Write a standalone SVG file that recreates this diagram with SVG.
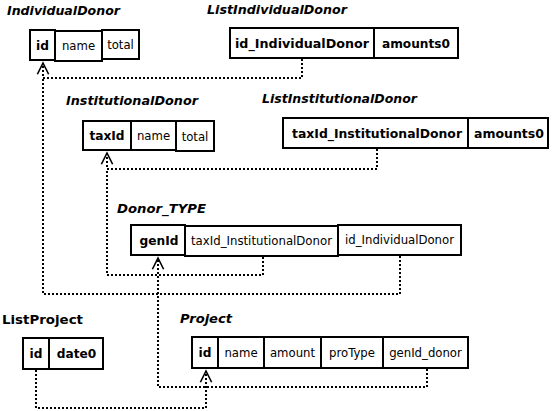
<svg xmlns="http://www.w3.org/2000/svg" width="554" height="411" viewBox="0 0 554 411">
<style>
.bg{fill:#fff}
.cell{fill:#fff;stroke:#000;stroke-width:2}
.t{font-family:"DejaVu Sans",Verdana,sans-serif;font-size:11.7px;fill:#000;text-anchor:middle}
.b{font-weight:bold;font-size:12.2px}
.title{font-family:"DejaVu Sans",Verdana,sans-serif;font-size:12.7px;font-weight:bold;font-style:italic;fill:#000}
.plain{font-style:normal}
.conn{fill:none;stroke:#000;stroke-width:2;stroke-dasharray:2 2}
</style>
<defs>
<marker id="arr" markerUnits="userSpaceOnUse" orient="auto" refX="0" refY="0" markerWidth="20" markerHeight="20" viewBox="-12 -8 16 16" overflow="visible">
<path d="M-9,-4.5 L0,0 L-9,4.5" fill="none" stroke="#000" stroke-width="1.3"/>
</marker>
</defs>
<rect class="bg" x="0" y="0" width="554" height="411"/>

<g id="connectors">
<path class="conn" d="M302,59 V78 H43 V63" marker-end="url(#arr)"/>
<path class="conn" d="M400,256 V294 H43 V78"/>
<path class="conn" d="M377,149 V169 H107 V153" marker-end="url(#arr)"/>
<path class="conn" d="M263,257 V275 H107 V169"/>
<path class="conn" d="M427,369 V387 H158 V258" marker-end="url(#arr)"/>
<path class="conn" d="M36,370 V408 H206 V371" marker-end="url(#arr)"/>
</g>

<g id="IndividualDonor">
<text class="title" x="7" y="15" textLength="113" lengthAdjust="spacingAndGlyphs">IndividualDonor</text>
<rect class="cell" x="30" y="30" width="25" height="30"/>
<rect class="cell" x="55" y="31" width="47" height="30"/>
<rect class="cell" x="102" y="30" width="37" height="29"/>
<text class="t b" x="42.5" y="49.5">id</text>
<text class="t" x="78.5" y="50">name</text>
<text class="t" x="120.5" y="49">total</text>
</g>

<g id="ListIndividualDonor">
<text class="title" x="207" y="14" textLength="140" lengthAdjust="spacingAndGlyphs">ListIndividualDonor</text>
<rect class="cell" x="230" y="28" width="144" height="30"/>
<rect class="cell" x="374" y="28" width="84" height="30"/>
<text class="t b" x="302" y="47.5" textLength="134" lengthAdjust="spacingAndGlyphs">id_IndividualDonor</text>
<text class="t b" x="416" y="47.5" textLength="68" lengthAdjust="spacingAndGlyphs">amounts0</text>
</g>

<g id="InstitutionalDonor">
<text class="title" x="66" y="105" textLength="132" lengthAdjust="spacingAndGlyphs">InstitutionalDonor</text>
<rect class="cell" x="83" y="121" width="48" height="29"/>
<rect class="cell" x="131" y="121" width="45" height="29"/>
<rect class="cell" x="176" y="121" width="38" height="30"/>
<text class="t b" x="107" y="140">taxId</text>
<text class="t" x="153.5" y="140">name</text>
<text class="t" x="195" y="140.5">total</text>
</g>

<g id="ListInstitutionalDonor">
<text class="title" x="262" y="103" textLength="155" lengthAdjust="spacingAndGlyphs">ListInstitutionalDonor</text>
<rect class="cell" x="283" y="118" width="185" height="30"/>
<rect class="cell" x="468" y="118" width="80" height="30"/>
<text class="t b" x="377" y="137.5" textLength="170" lengthAdjust="spacingAndGlyphs">taxId_InstitutionalDonor</text>
<text class="t b" x="509" y="137.5" textLength="70" lengthAdjust="spacingAndGlyphs">amounts0</text>
</g>

<g id="Donor_TYPE">
<text class="title" x="117" y="213" textLength="89" lengthAdjust="spacingAndGlyphs">Donor_TYPE</text>
<rect class="cell" x="131" y="225" width="54" height="30"/>
<rect class="cell" x="185" y="226" width="153" height="30"/>
<rect class="cell" x="338" y="225" width="123" height="30"/>
<text class="t b" x="159" y="244.5">genId</text>
<text class="t" x="261.5" y="245" textLength="141" lengthAdjust="spacingAndGlyphs">taxId_InstitutionalDonor</text>
<text class="t" x="399.5" y="244" textLength="109" lengthAdjust="spacingAndGlyphs">id_IndividualDonor</text>
</g>

<g id="ListProject">
<text class="title plain" x="2" y="324" textLength="81" lengthAdjust="spacingAndGlyphs">ListProject</text>
<rect class="cell" x="23" y="338" width="26" height="31"/>
<rect class="cell" x="49" y="338" width="54" height="31"/>
<text class="t b" x="36" y="358">id</text>
<text class="t b" x="76.5" y="358">date0</text>
</g>

<g id="Project">
<text class="title" x="180" y="323" textLength="52" lengthAdjust="spacingAndGlyphs">Project</text>
<rect class="cell" x="192" y="337" width="26" height="31"/>
<rect class="cell" x="218" y="337" width="46" height="31"/>
<rect class="cell" x="264" y="337" width="57" height="31"/>
<rect class="cell" x="321" y="337" width="62" height="31"/>
<rect class="cell" x="383" y="337" width="85" height="31"/>
<text class="t b" x="205" y="357">id</text>
<text class="t" x="241" y="357">name</text>
<text class="t" x="292.5" y="357">amount</text>
<text class="t" x="352" y="357">proType</text>
<text class="t" x="425.5" y="357">genId_donor</text>
</g>
</svg>
